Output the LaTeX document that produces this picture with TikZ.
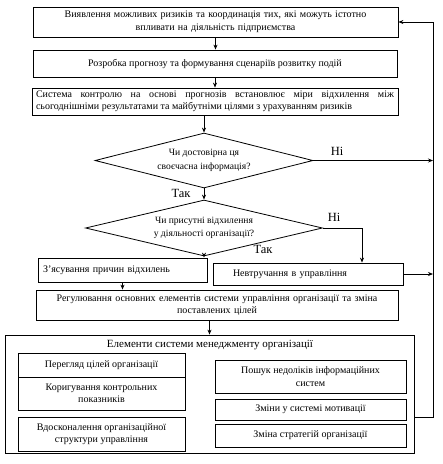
\documentclass[tikz,border=0pt]{standalone}
\usepackage{fontspec}
\setmainfont{Liberation Serif}
\usetikzlibrary{shapes.geometric,arrows.meta}

\tikzset{stage/.style={draw, line width=.8pt, inner sep=2pt, align=center, font=\fontsize{10}{12.5}\selectfont},
ask/.style={draw, diamond, aspect=4, line width=.8pt, inner sep=0pt, align=center, font=\fontsize{9.6}{13.5}\selectfont},
arr/.style={line width=.8pt, -{Stealth[length=5pt,width=4pt]}},
lbl/.style={font=\fontsize{12.5}{14}\selectfont}}

\begin{document}
\begin{tikzpicture}[x=1pt,y=-1pt]
\useasboundingbox (0,0) rectangle (443,464);

\node[stage, minimum width=365pt, minimum height=30pt, text width=355pt] (risk) at (215.5,22) {Виявлення можливих ризиків та координація тих, які можуть істотно\\ впливати на діяльність підприємства};
\node[stage, minimum width=364pt, minimum height=27pt] (fcst) at (215,63.5) {Розробка прогнозу та формування сценаріїв розвитку подій};
\node[stage, minimum width=366pt, minimum height=27pt, text width=358pt, align=justify] (ctrl) at (215,101.5) {Система контролю на основі прогнозів встановлює міри відхилення між\linebreak сьогоднішніми результатами та майбутніми цілями з урахуванням ризиків};

\node[ask, minimum width=218pt, minimum height=55pt] (info) at (204,160.5) {Чи достовірна ця\\своєчасна інформація?};
\node[ask, minimum width=237pt, minimum height=56pt] (dev) at (204,228) {Чи присутні відхилення\\у діяльності організації?};

\node[lbl] (no1) at (337,151) {Ні};
\node[lbl] (yes1) at (181,193) {Так};
\node[lbl] (no2) at (334,217) {Ні};
\node[lbl] (yes2) at (263,249) {Так};

\node[stage, minimum width=169pt, minimum height=24pt, text width=159pt, align=left, inner xsep=5pt] (why) at (122.5,270) {З'ясування причин відхилень};
\node[stage, minimum width=190pt, minimum height=22pt, text width=150pt, align=left, inner xsep=20pt] (nointerf) at (308,274) {Невтручання в управління};
\node[stage, minimum width=362pt, minimum height=30pt, text width=350pt] (reg) at (217,305) {Регулювання основних елементів системи управління організації та зміна\\ поставлених цілей};

\node[draw, line width=.8pt, minimum width=409pt, minimum height=118pt] (elem) at (209.5,394) {};
\node[anchor=north, font=\fontsize{11}{13}\selectfont] (elemtitle) at (210,337) {Елементи системи менеджменту організації};

\foreach \n/\y/\h/\t in {1/365/24/Перегляд цілей організації, 2/393.5/33/Коригування контрольних\\показників, 3/434/34/Вдосконалення організаційної\\структури управління} \node[stage, minimum width=167pt, minimum height=\h pt] (left\n) at (101.5,\y) {\t};

\foreach \n/\y/\h/\t in {1/376.5/33/Пошук недоліків інформаційних\\систем, 2/409.5/21/Зміни у системі мотивації, 3/435.5/23/Зміна стратегій організації} \node[stage, minimum width=191pt, minimum height=\h pt] (right\n) at (310.5,\y) {\t};

\coordinate (fb) at (433,417);

\draw[arr] (risk.south) -- (risk.south |- fcst.north);
\draw[arr] (fcst.south) -- (fcst.south |- ctrl.north);
\draw[arr] (ctrl.south -| info.north) -- (info.north);
\draw[arr] (info.south) -- (dev.north);
\draw[arr] (dev.south) -- (dev.south |- why.north);
\draw[arr] (dev.east) -| ([xshift=54pt]nointerf.north);
\draw[arr] (why.south) -- (why.south |- reg.north);
\draw[arr] (reg.south -| elem.north) -- (elem.north);

\draw[arr] (info.east) -- (info.east -| fb);
\draw[arr] (nointerf.east) -- (nointerf.east -| fb);
\draw[arr] (elem.east |- fb) -- (fb) -- (risk.east -| fb) -- (risk.east);

\end{tikzpicture}
\end{document}
